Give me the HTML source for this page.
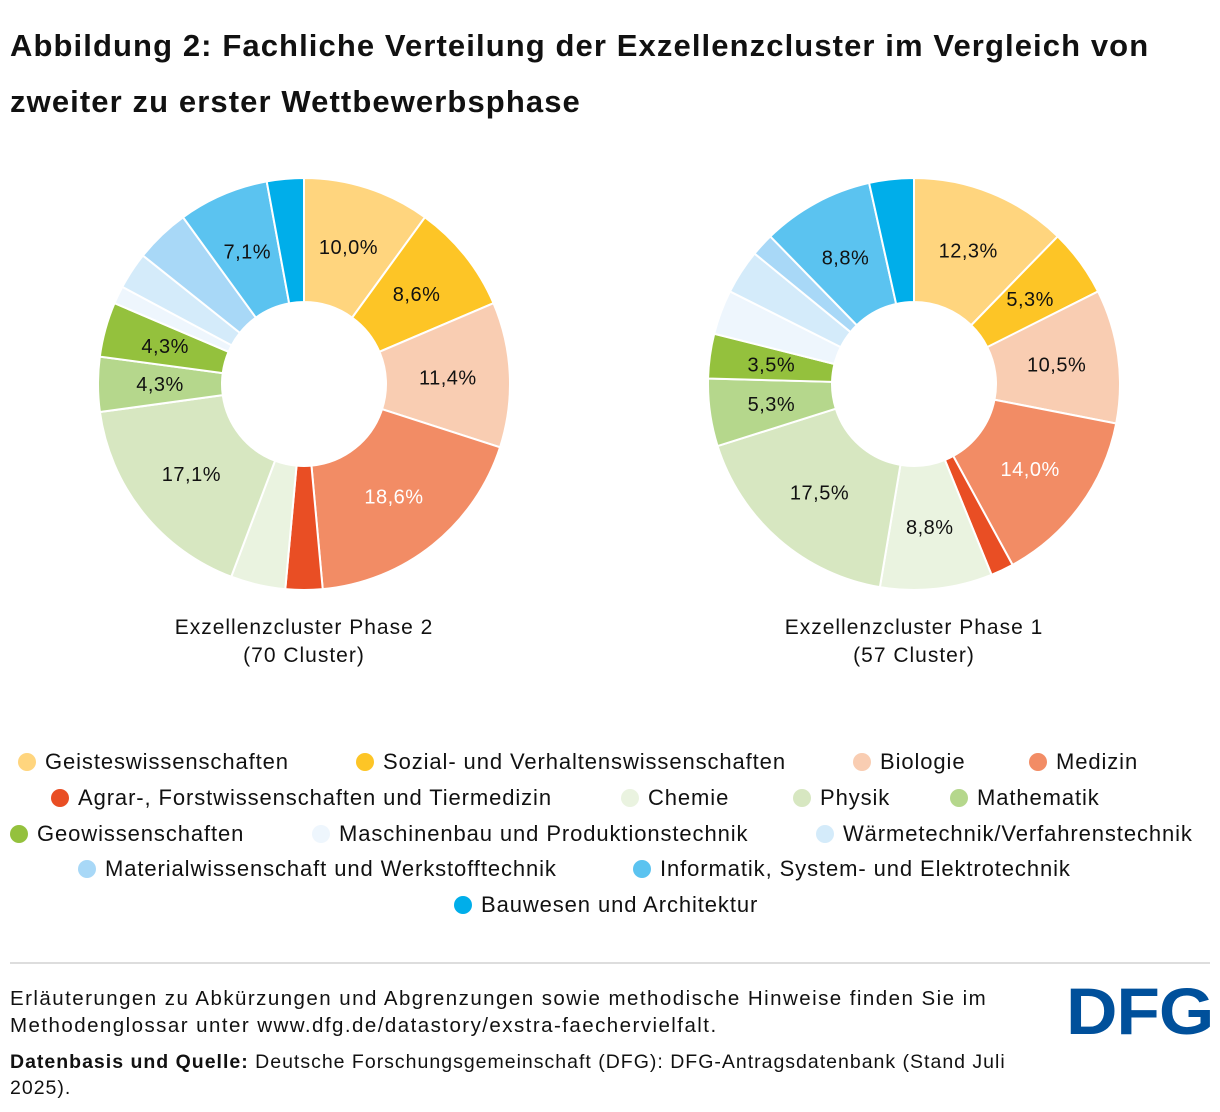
<!DOCTYPE html>
<html><head><meta charset="utf-8"><style>
body{margin:0;width:1220px;height:1112px;background:#fff;font-family:"Liberation Sans",sans-serif;color:#111;position:relative;overflow:hidden}
.t{position:absolute;left:10px;top:18px;font-size:31px;font-weight:bold;line-height:56px;letter-spacing:1.1px;white-space:nowrap}
.leg{position:absolute;font-size:22px;letter-spacing:0.9px;display:flex;align-items:center;white-space:nowrap}
.leg i{display:inline-block;width:18px;height:18px;border-radius:50%;margin-right:9px}
.foot{position:absolute;left:10px;font-size:20.5px;line-height:27px;letter-spacing:1.45px;white-space:nowrap}
</style></head><body>
<div class="t">Abbildung 2: Fachliche Verteilung der Exzellenzcluster im Vergleich von<br>zweiter zu erster Wettbewerbsphase</div>
<svg id="c" width="1220" height="700" style="position:absolute;left:0;top:0"></svg>
<div id="legend"></div>
<div style="position:absolute;left:10px;top:962px;width:1200px;height:2px;background:#ddd"></div>
<div class="foot" style="top:985px">Erläuterungen zu Abkürzungen und Abgrenzungen sowie methodische Hinweise finden Sie im<br>Methodenglossar unter www.dfg.de/datastory/exstra-faechervielfalt.</div>
<div class="foot" style="top:1049px;font-size:19.5px;line-height:26px;letter-spacing:1.0px"><b>Datenbasis und Quelle:</b> Deutsche Forschungsgemeinschaft (DFG): DFG-Antragsdatenbank (Stand Juli<br>2025).</div>
<div style="position:absolute;left:1066px;top:978px;font-size:66px;line-height:1;font-weight:900;color:#00509b;letter-spacing:-1px;transform:scaleX(1.08);transform-origin:left top">DFG</div>
<script>
const categories=["Geisteswissenschaften","Sozial- und Verhaltenswissenschaften","Biologie","Medizin","Agrar-, Forstwissenschaften und Tiermedizin","Chemie","Physik","Mathematik","Geowissenschaften","Maschinenbau und Produktionstechnik","Wärmetechnik/Verfahrenstechnik","Materialwissenschaft und Werkstofftechnik","Informatik, System- und Elektrotechnik","Bauwesen und Architektur"];
const colors=["#FFD57E","#FDC526","#F9CDB2","#F28C65","#E94E24","#EAF3E0","#D7E7C1","#B5D78C","#94C13D","#EEF6FD","#D4EBFA","#A8D8F7","#5BC3F0","#00AEEA"];
const phase2=[10.0,8.6,11.4,18.6,2.9,4.3,17.1,4.3,4.3,1.4,2.9,4.3,7.1,2.9];
const phase1=[12.3,5.3,10.5,14.0,1.8,8.8,17.5,5.3,3.5,3.5,3.5,1.8,8.8,3.5];
const show2=[1,1,1,1,0,0,1,1,1,0,0,0,1,0];
const show1=[1,1,1,1,0,1,1,1,1,0,0,0,1,0];
const titles=[["Exzellenzcluster Phase 2","(70 Cluster)"],["Exzellenzcluster Phase 1","(57 Cluster)"]];
const svg=document.getElementById('c');const NS="http://www.w3.org/2000/svg";
function donut(cx,cy,vals,show,ti,name){
 const R=206,r=82,tot=vals.reduce((a,b)=>a+b,0);let a=0;
 const pt=(ang,rad)=>[cx+rad*Math.sin(ang),cy-rad*Math.cos(ang)];
 vals.forEach((v,i)=>{
  const a0=a/tot*2*Math.PI;a+=v;const a1=a/tot*2*Math.PI;const lg=(a1-a0)>Math.PI?1:0;
  const p0=pt(a0,R),p1=pt(a1,R),q1=pt(a1,r),q0=pt(a0,r);
  const p=document.createElementNS(NS,'path');
  p.setAttribute('d',`M${p0}A${R},${R} 0 ${lg} 1 ${p1}L${q1}A${r},${r} 0 ${lg} 0 ${q0}Z`);
  p.setAttribute('fill',colors[i]);p.setAttribute('stroke','#fff');p.setAttribute('stroke-width','2');
  
  
  svg.appendChild(p);
  if(show[i]){const m=pt((a0+a1)/2,144);const t=document.createElementNS(NS,'text');
   t.setAttribute('x',m[0]);t.setAttribute('y',m[1]+7);t.setAttribute('text-anchor','middle');t.setAttribute('font-size','20');
   t.setAttribute('letter-spacing','0.5');
   t.setAttribute('fill',i==3?'#fff':'#111');t.textContent=v.toFixed(1).replace('.',',')+'%';
   
   
   svg.appendChild(t);}
 });
 ti.forEach((s,k)=>{const t=document.createElementNS(NS,'text');t.setAttribute('x',cx);t.setAttribute('y',634+k*28);
  t.setAttribute('text-anchor','middle');t.setAttribute('font-size','21');t.setAttribute('letter-spacing','1');t.setAttribute('fill','#111');t.textContent=s;
  
  
  svg.appendChild(t);});
}
donut(304,384,phase2,show2,titles[0],'phase2');
donut(914,384,phase1,show1,titles[1],'phase1');
const lx=[18,356,853,1029,51,621,793,950,10,312,816,78,633,454];
const ly=[762,762,762,762,798,798,798,798,834,834,834,869,869,905];
const L=document.getElementById('legend');
categories.forEach((c,i)=>{const d=document.createElement('div');d.className='leg';
 d.style.left=lx[i]+'px';d.style.top=(ly[i]-13)+'px';
 d.innerHTML=`<i style="background:${colors[i]}"></i>${c}`;
 
 
 L.appendChild(d);});
</script>
</body></html>
